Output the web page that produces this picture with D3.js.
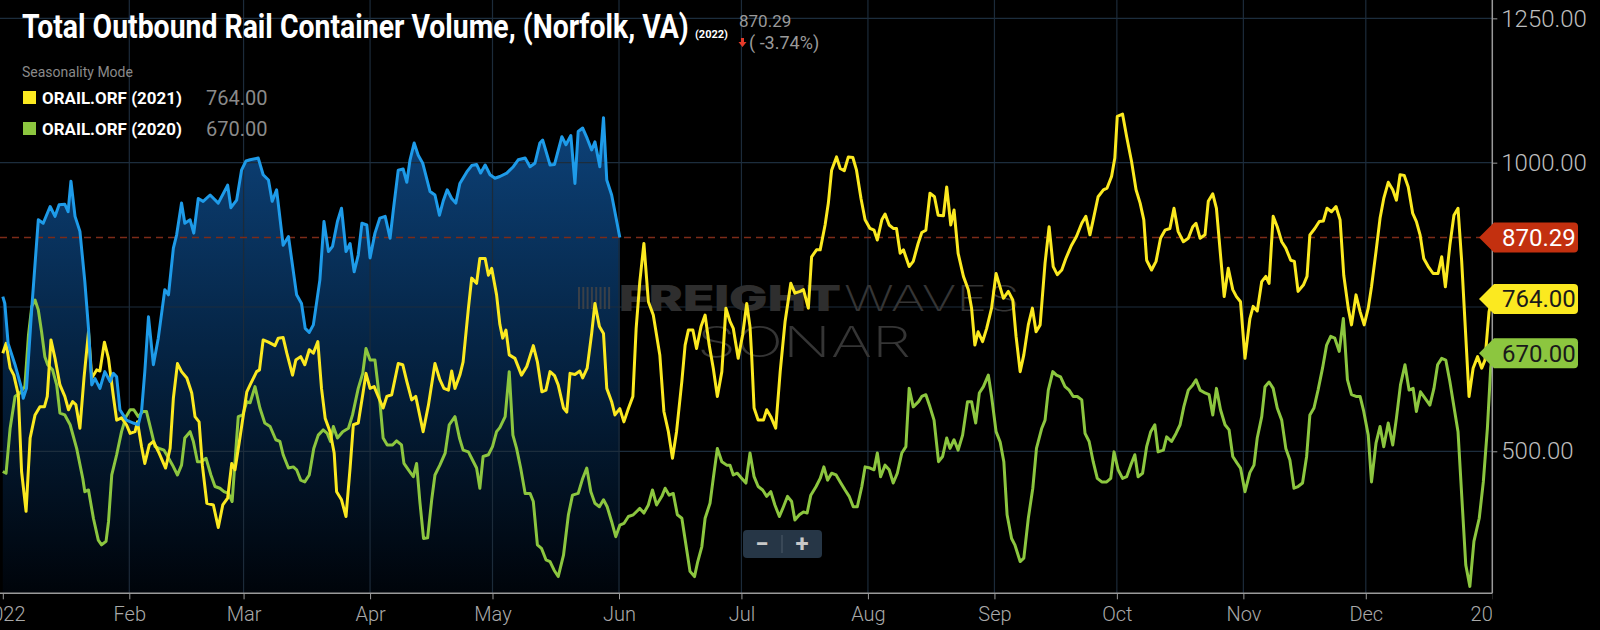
<!DOCTYPE html>
<html>
<head>
<meta charset="utf-8">
<script src="https://cdn.jsdelivr.net/npm/d3@7"></script>
<style>
  body { margin: 0; background: #000; }
  svg { display: block; font-family: Roboto, "Noto Sans", sans-serif; }
</style>
</head>
<body>
<div id="chart-area"></div>
<script>
// day of year (0 = Jan 1) , volume
var vol2022 = [[0,768],[0.5,756],[1.3,687],[3,650],[4.6,609],[5,592],[5.8,609],[7.1,748],[8.7,901],[9.9,895],[11.6,924],[12.8,907],[13.8,927],[15.2,928],[16,915],[16.7,968],[17.7,907],[18.9,881],[20.1,794],[21,713],[21.8,615],[22.6,626],[23.8,609],[25,638],[26.3,621],[27.1,635],[27.9,629],[28.7,572],[30.3,554],[32,549],[33.2,546],[34,569],[34.8,638],[35.7,733],[36.9,650],[38.1,696],[39.7,780],[40.6,771],[41.8,852],[42.6,875],[43.8,930],[44.6,895],[45.9,901],[46.8,878],[47.9,938],[49.1,933],[50.8,944],[52.8,930],[55.1,961],[55.9,922],[57.3,935],[58.5,987],[59.6,1003],[60.6,1005],
  [62.6,1008],[63.8,979],[65.1,970],[66,933],[67.1,953],[68.7,857],[70,872],[72,771],[73.2,756],[74.1,713],[75.1,706],[76.1,719],[77.7,797],[78.7,898],[79.8,846],[80.8,855],[82,898],[83,921],[84.1,846],[85.1,860],[86.1,811],[87.1,840],[88,895],[89.2,892],[90,835],[91.2,878],[92.4,904],[93.7,907],[94.9,869],[95.7,918],[96.9,987],[98.1,989],[99,966],[99.8,1005],[100.8,1034],[101.8,1013],[102.9,999],[104.7,950],[105.9,944],[107,909],[107.9,933],[108.9,953],[110,938],[111,930],[112,964],[113.7,984],[114.9,995],[116.1,997],[117.1,982],[118.2,996],[119.4,979],[120.6,973],[121.8,976],
  [123.5,982],[125.1,993],[126.3,1005],[128,1008],[129.2,993],[130.4,999],[131.6,1034],[132.3,1039],[134.1,996],[135.2,997],[137,1045],[138,1031],[139.2,1047],[140.2,964],[141,1054],[142.1,1060],[143.2,1042],[144.3,1022],[145.1,1036],[146.3,993],[147.2,1078],[148,970],[149.2,944],[151.2,870.29]];

var vol2021 = [[0,670],[0.8,687],[1.8,644],[2.7,632],[3.8,598],[4.6,465],[5.7,396],[6.7,523],[7.9,563],[9.1,577],[10.2,577],[10.9,595],[11.8,693],[12.8,661],[14,615],[15.2,595],[16.1,572],[17.1,586],[17.9,581],[18.9,540],[19.9,627],[21,707],[21.8,627],[23,641],[23.8,639],[24.9,689],[25.9,661],[27.1,595],[27.9,554],[29.1,558],[30.3,546],[31.2,531],[32.4,534],[33,551],[34,508],[34.8,479],[35.9,511],[36.9,517],[38.3,497],[39.9,471],[41,505],[41.8,592],[42.8,652],[43.8,638],[45.1,627],[46.3,601],[47.1,560],[48.1,551],[48.9,476],[50,410],[51.6,407],[52.8,368],[53.9,407],[55.1,419],[56.1,479],[56.9,468],[58.1,523],[59.8,603],
  [60.6,615],[62.2,638],[62.9,641],[63.8,693],[65.1,689],[66.7,683],[67.5,696],[68.7,697],[69.6,670],[71,632],[71.8,658],[73,664],[74,650],[75.1,676],[76.1,670],[77.2,690],[78.1,609],[79,557],[80.2,534],[81.2,497],[81.8,430],[83,416],[84.1,387],[85.1,471],[85.9,546],[87.1,549],[88.2,598],[89,635],[90,609],[91,612],[92,595],[93.2,575],[94.1,595],[95.3,598],[96.9,652],[98,650],[99,621],[100.2,589],[101.2,595],[103,534],[104.3,580],[105.9,652],[107.1,624],[108.1,609],[109.2,606],[110,639],[110.8,609],[112,632],[112.8,655],[114.1,748],[114.9,800],[116.1,791],[116.9,834],[118.2,834],[119,805],[119.8,817],[121,771],
  [121.8,720],[122.5,696],[123.3,710],[124.1,667],[125.5,661],[127.1,632],[128.4,647],[130,683],[131,655],[132.1,603],[133.1,606],[134.1,638],[135.2,631],[136.1,615],[137.4,575],[138.2,568],[139,635],[140.2,633],[141.4,639],[142.1,627],[143.2,644],[144.3,704],[145.1,756],[146.2,716],[147.2,704],[148,609],[149.2,586],[150,563],[151.2,574],[152.2,551],[153.3,574],[154.4,595],[155.2,713],[156.1,794],[157.1,860],[158.2,759],[159.4,736],[161,667],[162,569],[163.1,534],[164.1,488],[165.1,534],[166.4,621],[167.2,684],[168,710],[169.1,710],[170,678],[171.1,716],[172.1,736],[173.1,684],[174.1,644],[175.1,595],[176.2,638],[177.2,748],[178.2,725],[179,713],[180.2,661],[181.3,702],[182.3,756],
  [183.1,716],[183.5,667],[184.1,575],[185.1,554],[186.4,554],[187.2,572],[188.2,560],[189.4,540],[190.5,638],[191.7,725],[193.1,791],[194.1,774],[195.4,777],[196.2,780],[197.4,748],[198.2,837],[199.4,849],[200.3,849],[201.5,892],[202.3,930],[203.1,987],[204.3,1010],[205.2,990],[206.2,986],[207.2,1010],[208.3,1009],[209.2,987],[210.3,938],[211.3,901],[212.5,886],[213.5,883],[214.3,866],[215.4,901],[216.2,911],[217.2,892],[218.2,886],[219,886],[219.9,843],[220.7,849],[222.1,820],[223.1,829],[224.3,860],[225.2,879],[226.2,883],[227.2,947],[228.3,941],[229.2,909],[230.5,908],[231.3,958],[232.3,892],[233.1,918],[234.1,843],[235.4,803],[236.6,780],[237.4,748],[238.2,684],[239,707],[240.1,690],[241.1,713],[242.3,748],[243.4,808],
  [244.4,784],[245.2,765],[246.4,777],[247.5,762],[248.3,699],[249.3,638],[250.2,667],[251.3,719],[252.3,748],[253.2,707],[254.2,719],[255.4,826],[256.4,889],[257.4,820],[258.4,806],[259.5,814],[260.5,834],[261.9,857],[263.1,872],[264.4,895],[265.4,907],[266.4,875],[267.2,901],[268.4,941],[269.7,953],[270.6,956],[271.7,976],[272.5,1008],[273.1,1080],[274.4,1084],[275.4,1045],[276.6,1002],[277.7,953],[278.7,930],[279.6,901],[280.3,831],[281.5,814],[282.6,829],[283.7,869],[284.8,883],[286,886],[287,921],[288,881],[289.3,863],[290.5,869],[291.6,889],[292.4,895],[293.4,869],[294.6,875],[295.4,933],[296.5,946],[297.4,921],[298.4,840],[299.3,768],[300.3,817],[301.4,780],[302.3,768],[303.3,759],[304.4,661],
  [305.6,730],[306.4,751],[307.4,743],[308.5,794],[309.5,803],[310.3,791],[311.3,907],[312.3,889],[313.4,863],[314.4,852],[315.6,831],[316.5,829],[317.4,777],[318.7,788],[319.6,803],[320.3,875],[321.5,886],[322.6,898],[323.6,899],[324.5,921],[325.6,915],[326.7,924],[327.7,901],[328.6,805],[329.7,748],[330.5,719],[331.6,771],[332.6,742],[333.6,719],[334.6,748],[335.4,785],[336.5,846],[337.5,904],[338.4,938],[339.5,966],[340.6,953],[341.5,935],[342.4,979],[343.4,978],[344.4,958],[345.5,912],[346.4,898],[347.3,875],[348.2,834],[349.3,820],[350.5,808],[351.7,808],[352.6,837],[353.5,785],[354.6,857],[355.6,909],[356.6,921],[357.5,829],[358.3,725],[359.3,595],[360.3,644],[361.4,664],[362.4,644],[363.2,658],[364.2,742],[365,764]];

var vol2020 = [[0,465],[0.8,462],[1.8,540],[3,595],[4.2,601],[5.4,612],[6.3,702],[7.1,751],[7.9,762],[8.7,745],[9.5,707],[10.3,664],[11,650],[12.2,641],[13.2,615],[14,566],[15.2,563],[16.5,546],[18.1,505],[19.6,453],[20.1,430],[21,433],[22.2,384],[23.4,346],[24.2,338],[25.3,344],[25.9,378],[26.7,459],[27.9,494],[29.1,534],[30.2,560],[31.2,572],[32.1,572],[33.2,560],[34.3,569],[35.2,569],[36.2,540],[37.3,508],[38.3,505],[39.5,502],[40.4,491],[41.6,476],[42.8,459],[43.8,476],[44.6,523],[45.9,534],[46.7,517],[47.7,482],[48.7,482],[49.8,488],[51,459],[52,439],[53.2,436],[54.2,430],[55.3,427],[56.2,413],[56.9,482],[57.7,560],[58.8,563],[59.8,586],
  [60.6,584],[61.8,612],[63,575],[64.2,549],[65.5,543],[66.9,520],[67.9,517],[68.7,494],[70,471],[71.2,473],[72,468],[73,450],[74,447],[75.1,459],[76.2,505],[77.3,528],[78.5,537],[79.5,531],[80.3,517],[81,543],[82,523],[83.3,534],[84.7,540],[85.7,563],[87.1,609],[88.2,635],[89,678],[90,658],[91.2,658],[92.4,586],[93.2,523],[94.2,511],[95.5,511],[96.5,518],[97.7,511],[98.3,479],[99.4,468],[100.6,456],[101.4,479],[102.2,413],[103.1,349],[104.1,350],[105.1,416],[105.9,459],[107.1,476],[108.4,497],[109.4,546],[110.8,560],[111.9,523],[112.8,502],[114.1,499],[115.1,485],[116.1,471],[116.9,436],[117.7,491],[119,494],[120,508],[121,534],
  [121.8,541],[123.1,560],[124.1,638],[125,528],[125.9,505],[126.9,471],[128,427],[129.2,427],[130,413],[131,338],[132,332],[133.1,312],[134.1,309],[135.1,294],[136.1,283],[137.4,320],[138.6,390],[139.6,424],[141,427],[142.1,453],[143.1,471],[144.1,430],[145.1,410],[146.2,404],[147.2,416],[148.1,404],[149.2,378],[150.2,352],[151.2,372],[152.2,375],[153.3,387],[154.5,390],[156.1,401],[157.1,393],[158.2,407],[159.2,433],[160.2,407],[161.5,422],[162.3,436],[163.3,424],[164.3,427],[165.3,390],[166.4,384],[167.4,338],[168.4,292],[169.5,283],[170.3,309],[171.3,335],[172.1,384],[173.3,410],[174.1,453],[175.1,505],[176.2,482],[177.4,476],[178.2,476],[179,459],[180,462],[181.1,453],[182.1,445],
  [183.1,497],[184.1,456],[185.1,439],[186.2,433],[187.2,422],[188.2,430],[189.2,407],[190.3,387],[191.3,404],[192.3,422],[193.3,413],[194.1,381],[195.2,390],[196.2,395],[197.1,393],[198,424],[199.3,439],[200.3,453],[201.2,473],[202.1,450],[203.1,462],[204.2,459],[205.2,447],[206.4,433],[207.4,422],[208.4,404],[209.4,404],[210.5,439],[211.3,473],[212.5,471],[213.5,468],[214.3,497],[215.1,456],[216.2,476],[217.2,468],[218.2,445],[219.2,462],[220.3,497],[221.3,508],[222.1,609],[223.1,577],[224.4,586],[225.2,595],[226.2,598],[227.2,577],[228.2,554],[229.3,482],[230.3,491],[231.3,523],[232.1,505],[233.1,520],[234.1,502],[235.2,528],[236.4,586],[237.4,586],[238.4,549],[239.3,601],[240.3,612],[241.5,632],[242.3,595],[243.4,534],
  [244.4,516],[245.3,482],[246.1,390],[247.2,349],[248,338],[249.3,309],[250.2,315],[251.3,384],[252.4,436],[253.3,505],[254.6,540],[255.4,554],[256.2,606],[257.3,638],[258.2,632],[259.2,629],[260.3,612],[261.3,606],[262.3,595],[263.3,595],[264.4,589],[265.2,531],[266.2,517],[267.2,482],[268.2,453],[269.3,447],[270.5,447],[271.5,453],[272.3,499],[273.3,468],[274.4,453],[275.4,456],[276.4,476],[277.4,494],[278.2,456],[279.3,462],[280.3,508],[281.3,534],[282.3,546],[283.1,499],[284.4,502],[285.2,525],[286.4,517],[287.5,531],[288.5,546],[289.4,577],[290.5,606],[291.6,615],[292.4,624],[293.4,606],[294.6,601],[295.6,598],[296.5,563],[297.4,609],[298.4,572],[299.5,546],[300.5,537],[301.4,491],[302.5,479],[303.3,471],[304.4,430],
  [305.6,463],[306.6,476],[307.4,523],[308.5,560],[309.3,612],[310.3,620],[311.3,609],[312.3,575],[313.4,554],[314.4,505],[315.4,485],[316.4,436],[317.4,439],[318.5,445],[319.5,491],[320.3,563],[321.3,575],[322.3,606],[323.4,644],[324.4,684],[325.4,699],[326.4,696],[327.5,673],[328.5,730],[329.5,624],[330.5,598],[331.6,595],[332.6,595],[333.5,569],[334.6,528],[335.4,447],[336.5,514],[337.5,543],[338.4,508],[339.5,549],[340.6,511],[341.5,557],[342.5,615],[343.6,650],[344.6,606],[345.6,609],[346.4,569],[347.4,603],[348.5,592],[349.7,580],[350.7,609],[351.6,650],[352.6,661],[353.6,658],[354.6,621],[355.6,577],[356.6,534],[357.5,424],[358.5,303],[359.5,266],[360.5,344],[361.8,384],[362.8,447],[363.8,540],[364.6,644],[365,670]];

var gridValues = [500, 750, 1000, 1250];
var yTickLabels = [500, 1000, 1250];
var lastValues = [
  {label: "870.29", value: 870.29, fill: "#c3300f", text: "#ffffff"},
  {label: "764.00", value: 764, fill: "#fbe920", text: "#1a1a1a"},
  {label: "670.00", value: 670, fill: "#8cc63f", text: "#1a1a1a"}
];
var legendItems = [
  {name: "ORAIL.ORF (2021)", value: "764.00", color: "#fbe920"},
  {name: "ORAIL.ORF (2020)", value: "670.00", color: "#8cc63f"}
];

var W = 1600, H = 630;
var plotRight = 1492.3, plotBottom = 593.3;
var start = new Date(2022, 0, 1), end = new Date(2023, 0, 1);
function toDate(d) { return new Date(start.getTime() + d * 864e5); }

var svg = d3.select("#chart-area").append("svg")
    .attr("width", W)
    .attr("height", H);

var x = d3.scaleTime().domain([start, end]).range([2.8, plotRight]);
var y = d3.scaleLinear().domain([254, 1281.8]).range([plotBottom, 0]);

var defs = svg.append("defs");
var grad = defs.append("linearGradient")
    .attr("id", "areaGrad")
    .attr("gradientUnits", "userSpaceOnUse")
    .attr("x1", 0).attr("x2", 0)
    .attr("y1", y(1080)).attr("y2", plotBottom);
grad.append("stop").attr("offset", 0).attr("stop-color", "#0d4279");
grad.append("stop").attr("offset", 0.55).attr("stop-color", "#04203d");
grad.append("stop").attr("offset", 1).attr("stop-color", "#00040a");

defs.append("clipPath").attr("id", "plotClip")
  .append("rect").attr("x", 0).attr("y", 0).attr("width", plotRight).attr("height", H);

// area under 2022
var area = d3.area()
    .x((d) => x(toDate(d[0])))
    .y0(plotBottom)
    .y1((d) => y(d[1]));
svg.append("path")
    .datum(vol2022)
    .attr("d", area)
    .attr("fill", "url(#areaGrad)");

// grid
var months = d3.timeMonth.range(start, d3.timeDay.offset(end, 1));
svg.append("g").selectAll("line")
    .data(months.slice(1, -1))
    .enter().append("line")
    .attr("x1", (d) => x(d)).attr("x2", (d) => x(d))
    .attr("y1", 0).attr("y2", plotBottom)
    .attr("stroke", "#1c2b3a").attr("stroke-width", 1.2);
svg.append("g").selectAll("line")
    .data(gridValues)
    .enter().append("line")
    .attr("x1", 0).attr("x2", plotRight)
    .attr("y1", (d) => y(d)).attr("y2", (d) => y(d))
    .attr("stroke", "#1c2d3d").attr("stroke-width", 1.2);

// watermark
var wm = svg.append("g").attr("fill", "#2e2e2e");
for (var i = 0; i < 8; i++) {
  wm.append("rect").attr("x", 578 + i * 4.3).attr("y", 287).attr("width", 2).attr("height", 22).attr("fill", "#3a4048");
}
wm.append("text").attr("x", 619).attr("y", 311).attr("font-size", 35).attr("font-weight", 900)
    .attr("font-family", "Inter, Roboto, sans-serif")
    .attr("textLength", 222).attr("lengthAdjust", "spacingAndGlyphs").text("FREIGHT");
wm.append("text").attr("x", 844).attr("y", 311).attr("font-size", 35).attr("font-weight", 200)
    .attr("font-family", "Inter, Roboto, sans-serif").attr("fill", "#353535")
    .attr("textLength", 176).attr("lengthAdjust", "spacingAndGlyphs").text("WAVES");
wm.append("text").attr("x", 697).attr("y", 357).attr("font-size", 42).attr("font-weight", 200)
    .attr("font-family", "Inter, Roboto, sans-serif").attr("fill", "#353535")
    .attr("textLength", 214).attr("lengthAdjust", "spacingAndGlyphs").text("SONAR");

// last value dashed line
svg.append("line")
    .attr("x1", 0).attr("x2", 1480)
    .attr("y1", y(870.29)).attr("y2", y(870.29))
    .attr("stroke", "#7c2b18").attr("stroke-width", 1.5)
    .attr("stroke-dasharray", "7,5");

// lines
var line = d3.line()
    .x((d) => x(toDate(d[0])))
    .y((d) => y(d[1]));
[[vol2020, "#8cc63f"], [vol2021, "#fbe920"], [vol2022, "#1e9be9"]].forEach((s) => {
  svg.append("path")
      .datum(s[0])
      .attr("d", line)
      .attr("fill", "none")
      .attr("stroke", s[1])
      .attr("stroke-width", 3)
      .attr("stroke-linejoin", "round");
});

// axes
svg.append("line").attr("x1", 0).attr("x2", plotRight).attr("y1", plotBottom).attr("y2", plotBottom)
    .attr("stroke", "#9a9a9a").attr("stroke-width", 1.5);
svg.append("line").attr("x1", plotRight).attr("x2", plotRight).attr("y1", 0).attr("y2", plotBottom)
    .attr("stroke", "#9a9a9a").attr("stroke-width", 1.5);

var xAxis = d3.axisBottom(x)
    .tickValues(months)
    .tickSize(6)
    .tickPadding(8)
    .tickFormat((d) => d.getMonth() === 0 ? d3.timeFormat("%Y")(d) : d3.timeFormat("%b")(d));
var gx = svg.append("g")
    .attr("transform", "translate(0," + plotBottom + ")")
    .attr("clip-path", "url(#plotClip)")
    .call(xAxis);
gx.select(".domain").remove();
gx.selectAll(".tick line").attr("stroke", "#9a9a9a");
gx.selectAll(".tick text")
    .attr("fill", "#a9a9a9")
    .attr("font-size", 20)
    .attr("font-weight", 300)
    .attr("font-family", "Roboto, sans-serif");

var yAxis = d3.axisRight(y)
    .tickValues(yTickLabels)
    .tickSize(5)
    .tickPadding(4)
    .tickFormat(d3.format(".2f"));
var gy = svg.append("g")
    .attr("transform", "translate(" + plotRight + ",0)")
    .call(yAxis);
gy.select(".domain").remove();
gy.selectAll(".tick line").attr("stroke", "#9a9a9a");
gy.selectAll(".tick text")
    .attr("fill", "#bdbdbd")
    .attr("font-size", 24)
    .attr("font-weight", 300)
    .attr("font-family", "Roboto, sans-serif");

// value tags
var tags = svg.append("g").selectAll("g")
    .data(lastValues)
    .enter().append("g")
    .attr("transform", (d) => "translate(0," + y(d.value) + ")");
tags.append("path")
    .attr("d", "M1479,0 L1494,-15 L1574,-15 Q1578,-15 1578,-11 L1578,11 Q1578,15 1574,15 L1494,15 Z")
    .attr("fill", (d) => d.fill);
tags.append("text")
    .attr("x", 1502).attr("y", 8.5)
    .attr("font-size", 24)
    .attr("font-family", "Roboto, sans-serif")
    .attr("fill", (d) => d.text)
    .text((d) => d.label);

// header (title squeezed horizontally like a condensed face)
var title = svg.append("text")
    .attr("font-size", 34).attr("font-weight", 700).attr("fill", "#fff")
    .text("Total Outbound Rail Container Volume, (Norfolk, VA)");
var tw = title.node().getComputedTextLength();
title.attr("transform", "translate(22,38) scale(" + (667 / tw) + ",1)");
svg.append("text").attr("x", 695).attr("y", 38)
    .attr("font-size", 11).attr("font-weight", 700).attr("fill", "#fff")
    .text("(2022)");
svg.append("text").attr("x", 739).attr("y", 27)
    .attr("font-size", 17).attr("fill", "#9a9a9a")
    .text("870.29");
svg.append("path").attr("d", "M741,38 L744,38 L744,42 L746.5,42 L742.5,47 L738.5,42 L741,42 Z")
    .attr("fill", "#e53a2a");
svg.append("text").attr("x", 749).attr("y", 49)
    .attr("font-size", 18).attr("fill", "#9a9a9a")
    .text("( -3.74%)");
svg.append("text").attr("x", 22).attr("y", 77)
    .attr("font-size", 14).attr("fill", "#8a8a8a")
    .text("Seasonality Mode");

var leg = svg.append("g").selectAll("g")
    .data(legendItems)
    .enter().append("g")
    .attr("transform", (d, i) => "translate(0," + (i * 31) + ")");
leg.append("rect").attr("x", 23).attr("y", 91).attr("width", 13).attr("height", 13)
    .attr("fill", (d) => d.color);
leg.append("text").attr("x", 42).attr("y", 104)
    .attr("font-size", 17).attr("font-weight", 700).attr("fill", "#fff")
    .attr("textLength", 140).attr("lengthAdjust", "spacingAndGlyphs")
    .text((d) => d.name);
leg.append("text").attr("x", 206).attr("y", 105)
    .attr("font-size", 20).attr("fill", "#8a8a8a")
    .text((d) => d.value);

// zoom control
var zc = svg.append("g");
zc.append("rect").attr("x", 743).attr("y", 530).attr("width", 79).attr("height", 28).attr("rx", 4)
    .attr("fill", "#263646");
zc.append("line").attr("x1", 782).attr("x2", 782).attr("y1", 535).attr("y2", 553)
    .attr("stroke", "#4c5b69");
zc.append("text").attr("x", 762).attr("y", 552).attr("text-anchor", "middle")
    .attr("font-size", 24).attr("font-weight", 700).attr("fill", "#c8c8c8").text("−");
zc.append("text").attr("x", 802).attr("y", 552).attr("text-anchor", "middle")
    .attr("font-size", 24).attr("font-weight", 700).attr("fill", "#c8c8c8").text("+");
</script>
</body>
</html>
